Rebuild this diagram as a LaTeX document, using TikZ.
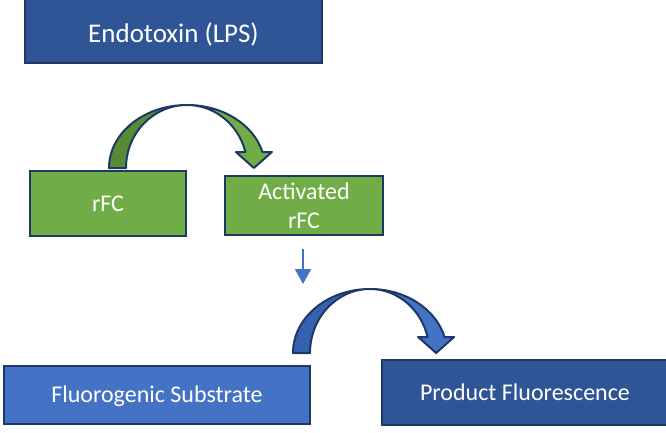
\documentclass[tikz,border=0pt]{standalone}
\usepackage{fontspec}
\setmainfont{Carlito}
\usetikzlibrary{arrows.meta}
\definecolor{navy}{HTML}{1F3864}
\definecolor{dblue}{HTML}{2F5597}
\definecolor{mblue}{HTML}{4472C4}
\definecolor{bblue}{HTML}{3562AE}
\definecolor{lgreen}{HTML}{70AD47}
\definecolor{dgreen}{HTML}{568A36}
\begin{document}
\begin{tikzpicture}[x=1pt,y=1pt,
  box/.style={draw=navy, line width=2.2pt, text=white, inner sep=0pt},
  bigfont/.style={font=\fontsize{27}{32}\selectfont},
  midfont/.style={font=\fontsize{24}{29}\selectfont},
  arcline/.style={draw=navy, line width=2pt, line join=round}]
\useasboundingbox (0,0) rectangle (666,432);
\fill[white] (0,0) rectangle (666,432);

% boxes
\node[box, fill=dblue, bigfont, minimum width=297pt, minimum height=67pt,
      text height=27pt, text depth=0pt] (endo) at (173.5,402.5) {Endotoxin (LPS)};
\node[box, fill=lgreen, midfont, minimum width=156pt, minimum height=65pt] (rfc) at (108,228.5) {rFC};
\node[box, fill=lgreen, midfont, minimum width=158pt, minimum height=59pt, align=center] (arfc) at (304,226.5) {Activated\\rFC};
\node[box, fill=mblue, midfont, minimum width=306pt, minimum height=58pt,
      text height=15.5pt, text depth=0pt] (fsub) at (157,37) {Fluorogenic Substrate};
\node[box, fill=dblue, midfont, minimum width=286pt, minimum height=65pt,
      text height=15.5pt, text depth=0pt] (prod) at (525,39.5) {Product Fluorescence};

% green curved arrow
\path[arcline, fill=dgreen] (109,264) arc[start angle=180, end angle=90, x radius=78, y radius=63]
  arc[start angle=90, end angle=180, x radius=61, y radius=63] -- cycle;
\path[arcline, fill=lgreen] (187,327) arc[start angle=90, end angle=14.7, x radius=78, y radius=63]
  -- (271.9,280) -- (253.9,264) -- (235.9,280) -- (245.4,280)
  arc[start angle=14.7, end angle=90, x radius=60.4, y radius=63] -- cycle;

% small blue arrow
\coordinate (sa) at (303,183);
\coordinate (sb) at (303,148);
\draw[mblue, line width=2pt, -{Triangle[width=16pt,length=15pt]}] (sa) -- (sb);

% blue curved arrow
\path[arcline, fill=bblue] (293,79) arc[start angle=180, end angle=90, x radius=77, y radius=64]
  arc[start angle=90, end angle=180, x radius=60, y radius=64] -- cycle;
\path[arcline, fill=mblue] (370,143) arc[start angle=90, end angle=14.48, x radius=77, y radius=64]
  -- (454.1,95) -- (436.1,79) -- (418.1,95) -- (427.6,95)
  arc[start angle=14.48, end angle=90, x radius=59.5, y radius=64] -- cycle;
\end{tikzpicture}
\end{document}
